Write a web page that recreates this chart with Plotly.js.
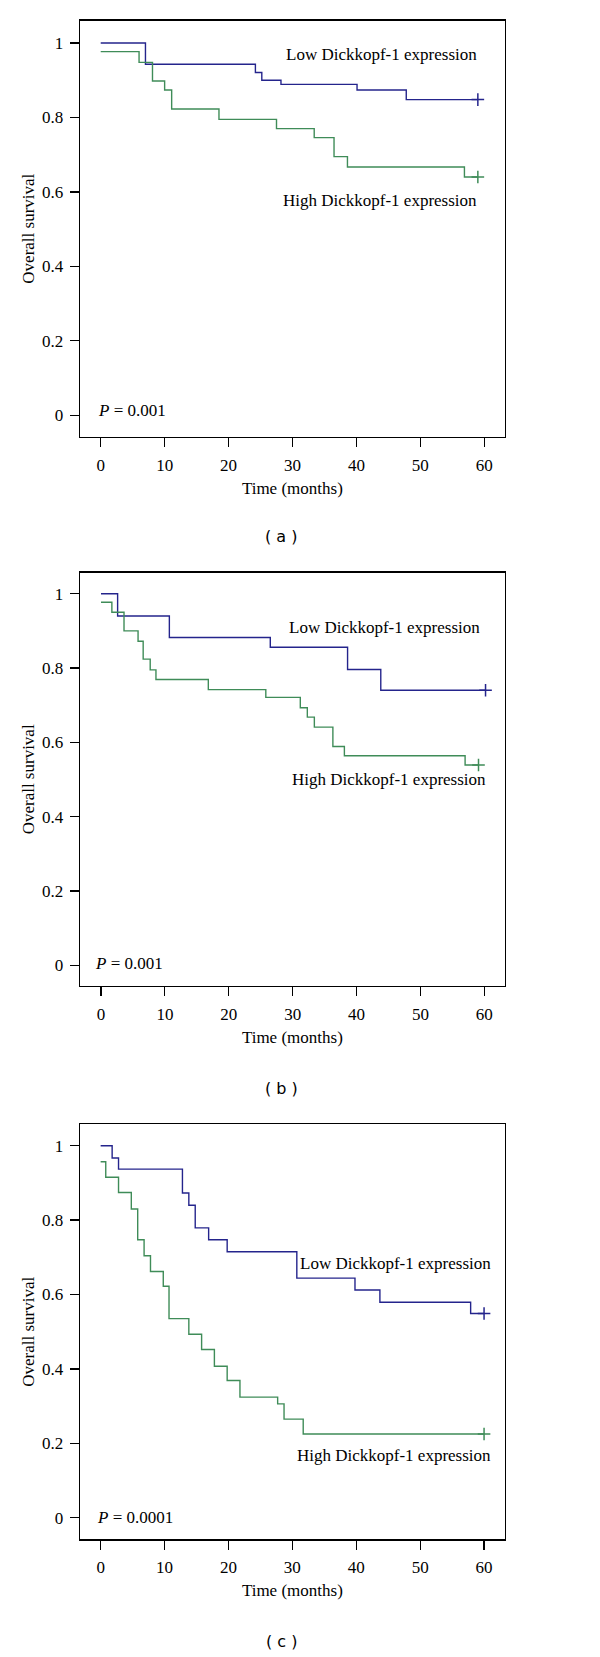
<!DOCTYPE html>
<html>
<head>
<meta charset="utf-8">
<script src="https://cdn.plot.ly/plotly-3.0.1.min.js"></script>
<style>html,body{margin:0;padding:0;background:#fff}#chart{width:600px;height:1657px}</style>
</head>
<body>
<div id="chart"></div>
<script>
// Panel (a)
const aLowT  = [0, 7.0, 24.2, 25.2, 28.2, 40.1, 47.8, 59.0];
const aLowS  = [1.0, 0.943, 0.921, 0.900, 0.889, 0.874, 0.848, 0.848];
const aHighT = [0, 6.0, 8.1, 10.0, 11.1, 18.5, 27.5, 33.4, 36.5, 38.6, 56.9, 59.0];
const aHighS = [0.977, 0.948, 0.898, 0.874, 0.823, 0.795, 0.770, 0.746, 0.695, 0.667, 0.640, 0.640];
// Panel (b)
const bLowT  = [0, 2.6, 10.7, 26.5, 38.6, 43.8, 60.2];
const bLowS  = [1.0, 0.940, 0.882, 0.856, 0.796, 0.740, 0.740];
const bHighT = [0, 1.7, 3.6, 5.8, 6.6, 7.7, 8.6, 16.8, 25.8, 31.2, 32.3, 33.4, 36.3, 38.1, 57.0, 59.1];
const bHighS = [0.977, 0.950, 0.900, 0.872, 0.824, 0.795, 0.769, 0.742, 0.721, 0.693, 0.668, 0.641, 0.589, 0.564, 0.539, 0.539];
// Panel (c)
const cLowT  = [0, 1.8, 2.8, 12.8, 13.8, 14.8, 16.9, 19.8, 30.7, 39.8, 43.7, 57.9, 60.0];
const cLowS  = [1.0, 0.967, 0.937, 0.873, 0.840, 0.779, 0.747, 0.715, 0.644, 0.612, 0.579, 0.549, 0.549];
const cHighT = [0, 0.8, 2.8, 4.8, 5.8, 6.8, 7.8, 9.8, 10.7, 13.8, 15.8, 17.8, 19.8, 21.8, 27.7, 28.7, 31.7, 60.0];
const cHighS = [0.957, 0.915, 0.874, 0.830, 0.747, 0.704, 0.662, 0.622, 0.535, 0.493, 0.452, 0.407, 0.369, 0.324, 0.306, 0.265, 0.225, 0.225];

const xTicks = [0, 10, 20, 30, 40, 50, 60];
const yTicks = [0, 0.2, 0.4, 0.6, 0.8, 1];
const yTickText = ['0', '0.2', '0.4', '0.6', '0.8', '1'];
const pValues = ['0.001', '0.001', '0.0001'];
const panelLabels = ['( a )', '( b )', '( c )'];
const lowLabel = 'Low Dickkopf-1 expression';
const highLabel = 'High Dickkopf-1 expression';

const BLUE = '#24248c';
const GREEN = '#3f8c58';
const FONT = 'Liberation Serif, Times New Roman, serif';
const FS = 17;

const panels = [
  {low: [aLowT, aLowS], high: [aHighT, aHighS], ax: '', dom: [0.73645, 0.98751]},
  {low: [bLowT, bLowS], high: [bHighT, bHighS], ax: '2', dom: [0.40495, 0.65437]},
  {low: [cLowT, cLowS], high: [cHighT, cHighS], ax: '3', dom: [0.07104, 0.32149]}
];

const traces = [];
panels.forEach(p => {
  const xa = 'x' + p.ax, ya = 'y' + p.ax;
  [[p.low, BLUE], [p.high, GREEN]].forEach(([d, col]) => {
    traces.push({x: d[0], y: d[1], xaxis: xa, yaxis: ya, type: 'scatter', mode: 'lines',
      line: {shape: 'hv', color: col, width: 1.4}, hoverinfo: 'skip', showlegend: false});
    const n = d[0].length - 1;
    traces.push({x: [d[0][n]], y: [d[1][n]], xaxis: xa, yaxis: ya, type: 'scatter', mode: 'markers',
      marker: {symbol: 'cross-thin-open', size: 9, color: col, line: {color: col, width: 1.5}},
      hoverinfo: 'skip', showlegend: false});
  });
});

const layout = {
  width: 600, height: 1657,
  margin: {l: 0, r: 0, t: 0, b: 0},
  paper_bgcolor: '#fff', plot_bgcolor: '#fff',
  font: {family: FONT, size: FS, color: '#000'},
  showlegend: false,
  annotations: []
};

const xDom = [80 / 600, 504.7 / 600];
const xRanges = [[-3.24, 63.2], [-3.29, 63.2], [-3.23, 63.23]];
const yRanges = [[-0.0575, 1.06], [-0.0557, 1.0565], [-0.058, 1.0575]];
const lowPos = [[59.25, 0.968], [59.7, 0.9085], [61.45, 0.684]];
const highPos = [[59.25, 0.578], [60.56, 0.4987], [61.45, 0.1685]];
const pPos = [[-0.74, 0.0124], [-1.25, 0.0035], [-0.89, 0.001]];
const labelY = [536.7, 1088.3, 1641.7];

panels.forEach((p, i) => {
  const xk = 'xaxis' + p.ax, yk = 'yaxis' + p.ax;
  layout[xk] = {
    domain: xDom, anchor: 'y' + p.ax, range: xRanges[i],
    tickmode: 'array', tickvals: xTicks, ticktext: xTicks.map(String),
    ticks: 'outside', ticklen: 9, tickwidth: 1.2, tickcolor: '#000',
    showline: true, mirror: true, linecolor: '#000', linewidth: 1.4,
    showgrid: false, zeroline: false, ticklabelstandoff: 3,
    tickfont: {family: FONT, size: FS},
    title: {text: 'Time (months)', font: {family: FONT, size: FS}, standoff: 8}
  };
  layout[yk] = {
    domain: p.dom, anchor: 'x' + p.ax, range: yRanges[i],
    tickmode: 'array', tickvals: yTicks, ticktext: yTickText,
    ticks: 'outside', ticklen: 9, tickwidth: 1.2, tickcolor: '#000',
    showline: true, mirror: true, linecolor: '#000', linewidth: 1.4,
    showgrid: false, zeroline: false, ticklabelstandoff: 3,
    tickfont: {family: FONT, size: FS},
    title: {text: 'Overall survival', font: {family: FONT, size: FS}, standoff: 3}
  };
  layout.annotations.push({xref: 'x' + p.ax, yref: 'y' + p.ax, x: lowPos[i][0], y: lowPos[i][1],
    text: lowLabel, showarrow: false, xanchor: 'right', yanchor: 'middle', font: {family: FONT, size: FS}});
  layout.annotations.push({xref: 'x' + p.ax, yref: 'y' + p.ax, x: highPos[i][0], y: highPos[i][1],
    text: highLabel, showarrow: false, xanchor: 'right', yanchor: 'middle', font: {family: FONT, size: FS}});
  layout.annotations.push({xref: 'x' + p.ax, yref: 'y' + p.ax, x: pPos[i][0], y: pPos[i][1],
    text: '<i>P</i> = ' + pValues[i], showarrow: false, xanchor: 'left', yanchor: 'middle', font: {family: FONT, size: FS}});
  layout.annotations.push({xref: 'paper', yref: 'paper', x: 281 / 600, y: 1 - labelY[i] / 1657,
    text: panelLabels[i], showarrow: false, xanchor: 'center', yanchor: 'middle',
    font: {family: 'DejaVu Sans, Verdana, sans-serif', size: 16}});
});

Plotly.newPlot('chart', traces, layout, {staticPlot: true, displayModeBar: false});
</script>
</body>
</html>
